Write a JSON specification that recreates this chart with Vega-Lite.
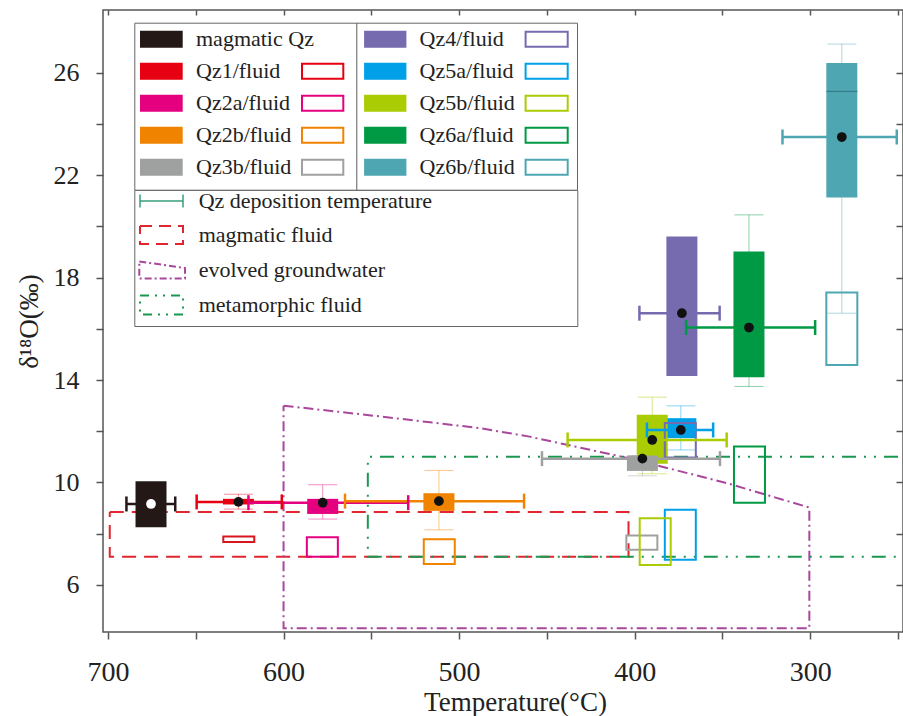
{
  "$schema": "https://vega.github.io/schema/vega-lite/v6.json",
  "width": 800,
  "height": 622,
  "autosize": {"type": "none"},
  "padding": {"left": 103, "top": 10, "right": 0, "bottom": 84},
  "background": "white",
  "datasets": {
    "samples": [
      {"sample":"magmatic Qz","t":675.5,"qlo":8.25,"qhi":10.05,"mean":9.16,"wlo":null,"whi":null,"tlo":689.5,"thi":661.7,"tf":null,"flo":null,"fhi":null,"med":null},
      {"sample":"Qz1","t":625.7,"qlo":9.14,"qhi":9.36,"mean":9.24,"wlo":8.96,"whi":9.54,"tlo":649.5,"thi":601,"tf":625.5,"flo":7.67,"fhi":7.89,"med":null},
      {"sample":"Qz2a","t":577.7,"qlo":8.77,"qhi":9.36,"mean":9.21,"wlo":8.57,"whi":9.91,"tlo":620,"thi":529,"tf":577.9,"flo":7.1,"fhi":7.86,"med":null},
      {"sample":"Qz2b","t":511.5,"qlo":8.89,"qhi":9.58,"mean":9.27,"wlo":8.15,"whi":10.47,"tlo":565,"thi":463,"tf":511.3,"flo":6.82,"fhi":7.78,"med":null},
      {"sample":"Qz3b","t":395.6,"qlo":10.45,"qhi":11.05,"mean":10.93,"wlo":10.26,"whi":11.05,"tlo":452.8,"thi":351.4,"tf":395.9,"flo":7.37,"fhi":7.93,"med":null},
      {"sample":"Qz4","t":373.1,"qlo":14.16,"qhi":19.6,"mean":16.61,"wlo":null,"whi":null,"tlo":397.3,"thi":351.6,"tf":374,"flo":10.97,"fhi":12.32,"med":null},
      {"sample":"Qz5a","t":373.7,"qlo":11.73,"qhi":12.51,"mean":12.05,"wlo":11.27,"whi":12.99,"tlo":393,"thi":355.3,"tf":374,"flo":6.98,"fhi":8.93,"med":null},
      {"sample":"Qz5b","t":390,"qlo":10.73,"qhi":12.64,"mean":11.66,"wlo":10.34,"whi":13.33,"tlo":438.2,"thi":347.6,"tf":388.3,"flo":6.78,"fhi":8.6,"med":null},
      {"sample":"Qz6a","t":334.9,"qlo":14.11,"qhi":19.02,"mean":16.05,"wlo":13.75,"whi":20.45,"tlo":370.7,"thi":297.2,"tf":334.6,"flo":9.21,"fhi":11.4,"med":null},
      {"sample":"Qz6b","t":282,"qlo":21.13,"qhi":26.38,"mean":23.49,"wlo":16.61,"whi":27.12,"tlo":315.8,"thi":250.7,"tf":282,"flo":14.59,"fhi":17.42,"med":25.27}
    ],
    "regions": [
      {"region":"magmatic fluid","i":0,"T":699,"V":8.85},
      {"region":"magmatic fluid","i":1,"T":403.5,"V":8.85},
      {"region":"magmatic fluid","i":2,"T":403.5,"V":7.1},
      {"region":"magmatic fluid","i":3,"T":699,"V":7.1},
      {"region":"magmatic fluid","i":4,"T":699,"V":8.85},
      {"region":"evolved groundwater","i":0,"T":600,"V":13.0},
      {"region":"evolved groundwater","i":1,"T":544,"V":12.57},
      {"region":"evolved groundwater","i":2,"T":488,"V":12.12},
      {"region":"evolved groundwater","i":3,"T":460,"V":11.79},
      {"region":"evolved groundwater","i":4,"T":403.5,"V":10.95},
      {"region":"evolved groundwater","i":5,"T":347.3,"V":9.97},
      {"region":"evolved groundwater","i":6,"T":300.5,"V":9.02},
      {"region":"evolved groundwater","i":7,"T":300.5,"V":4.31},
      {"region":"evolved groundwater","i":8,"T":600,"V":4.31},
      {"region":"evolved groundwater","i":9,"T":600,"V":13.0},
      {"region":"metamorphic fluid","i":0,"T":250,"V":11.0},
      {"region":"metamorphic fluid","i":1,"T":552,"V":11.0},
      {"region":"metamorphic fluid","i":2,"T":552,"V":7.1},
      {"region":"metamorphic fluid","i":3,"T":250,"V":7.1}
    ]
  },
  "resolve": {
    "scale": {"fill": "independent", "stroke": "independent"},
    "legend": {"fill": "independent", "stroke": "independent"}
  },
  "layer": [
    {
      "data": {"name": "regions"},
      "mark": {"type": "line", "strokeWidth": 2, "clip": true},
      "encoding": {
        "x": {"field": "T", "type": "quantitative", "scale": {"domain": [250, 700], "reverse": true, "nice": false, "zero": false},
          "axis": {"title": "Temperature(°C)", "values": [700, 650, 600, 550, 500, 450, 400, 350, 300, 250],
            "labelExpr": "datum.value % 100 === 0 ? datum.label : ''", "labelFontSize": 28, "titleFontSize": 27,
            "labelPadding": 19, "titlePadding": 3, "titleX": 412, "gridDash": [5, 3000]}},
        "y": {"field": "V", "type": "quantitative", "scale": {"domain": [4.16, 28.45], "nice": false, "zero": false},
          "axis": {"title": "δ¹⁸O(‰)", "values": [6, 8, 10, 12, 14, 16, 18, 20, 22, 24, 26],
            "labelExpr": "datum.value % 4 === 2 ? datum.label : ''", "labelFontSize": 26, "titleFontSize": 27,
            "labelPadding": 17, "titlePadding": 10, "gridDash": [7, 3000]}},
        "order": {"field": "i", "type": "quantitative"},
        "stroke": {"field": "region", "type": "nominal",
          "scale": {"domain": ["Qz deposition temperature", "magmatic fluid", "evolved groundwater", "metamorphic fluid"],
            "range": ["#3a9e7e", "#e0262e", "#a8479c", "#1a9850"]},
          "legend": {"orient": "none", "legendX": 31.3, "legendY": 180, "direction": "vertical", "title": null,
            "symbolSize": 4, "symbolStrokeWidth": 2, "padding": 0, "rowPadding": 0, "labelOffset": 42.4, "labelLimit": 600,
            "strokeColor": "#666", "fillColor": "white", "labelFont": "Liberation Serif", "labelFontSize": 22, "labelColor": "#222",
            "encode": {"symbols": {"update": {
              "shape": {"signal": "datum.value === 'Qz deposition temperature' ? 'M-5.3,-6.5V6.5M-5.3,0H37.7M37.7,-6.5V6.5M427.5,-9.5M427.5,16.6' : datum.value === 'magmatic fluid' ? 'M-5.3,-9H37.7V9H-5.3ZM427.5,-9.5M427.5,16.6' : datum.value === 'evolved groundwater' ? 'M-6,-8.5L39.7,-2V8.5H-6ZM427.5,-9.5M427.5,16.6' : 'M-5.3,-9.5H37.7V9.5H-5.3ZM427.5,-9.5M427.5,16.6'"},
              "strokeDash": {"signal": "datum.value === 'magmatic fluid' ? [12, 7] : datum.value === 'evolved groundwater' ? [7, 3, 2, 3] : datum.value === 'metamorphic fluid' ? [9, 6, 2, 6, 2, 6] : [1, 0]"},
              "strokeWidth": {"signal": "datum.value === 'Qz deposition temperature' ? 1.5 : 2"},
              "fill": {"value": "transparent"},
              "opacity": {"value": 1}
            }}}}},
        "strokeDash": {"field": "region", "type": "nominal",
          "scale": {"domain": ["Qz deposition temperature", "magmatic fluid", "evolved groundwater", "metamorphic fluid"],
            "range": [[1, 0], [14, 8], [10, 4, 2, 4], [14, 8, 2, 8, 2, 8]]},
          "legend": null}
      }
    },
    {
      "data": {"name": "samples"},
      "mark": {"type": "rule", "strokeWidth": 1, "strokeOpacity": 0.45},
      "encoding": {
        "x": {"field": "t", "type": "quantitative", "scale": {"domain": [250, 700], "reverse": true, "nice": false, "zero": false}},
        "y": {"field": "wlo", "type": "quantitative", "scale": {"domain": [4.16, 28.45], "nice": false, "zero": false}},
        "y2": {"field": "whi"},
        "stroke": {"field": "sample", "type": "nominal", "legend": null,
          "scale": {"domain": ["magmatic Qz","Qz1","Qz2a","Qz2b","Qz3b","Qz4","Qz5a","Qz5b","Qz6a","Qz6b"],
            "range": ["#231815","#e60012","#e4007f","#f08300","#9fa0a0","#776bb0","#00a0e9","#aacc03","#009944","#4fa6b3"]}}
      }
    },
    {
      "data": {"name": "samples"},
      "mark": {"type": "tick", "orient": "horizontal", "size": 29, "thickness": 1, "opacity": 0.45},
      "encoding": {
        "x": {"field": "t", "type": "quantitative", "scale": {"domain": [250, 700], "reverse": true, "nice": false, "zero": false}},
        "y": {"field": "whi", "type": "quantitative", "scale": {"domain": [4.16, 28.45], "nice": false, "zero": false}},
        "color": {"field": "sample", "type": "nominal", "legend": null,
          "scale": {"domain": ["magmatic Qz","Qz1","Qz2a","Qz2b","Qz3b","Qz4","Qz5a","Qz5b","Qz6a","Qz6b"],
            "range": ["#231815","#e60012","#e4007f","#f08300","#9fa0a0","#776bb0","#00a0e9","#aacc03","#009944","#4fa6b3"]}}
      }
    },
    {
      "data": {"name": "samples"},
      "mark": {"type": "tick", "orient": "horizontal", "size": 29, "thickness": 1, "opacity": 0.45},
      "encoding": {
        "x": {"field": "t", "type": "quantitative", "scale": {"domain": [250, 700], "reverse": true, "nice": false, "zero": false}},
        "y": {"field": "wlo", "type": "quantitative", "scale": {"domain": [4.16, 28.45], "nice": false, "zero": false}},
        "color": {"field": "sample", "type": "nominal", "legend": null,
          "scale": {"domain": ["magmatic Qz","Qz1","Qz2a","Qz2b","Qz3b","Qz4","Qz5a","Qz5b","Qz6a","Qz6b"],
            "range": ["#231815","#e60012","#e4007f","#f08300","#9fa0a0","#776bb0","#00a0e9","#aacc03","#009944","#4fa6b3"]}}
      }
    },
    {
      "data": {"name": "samples"},
      "transform": [{"filter": {"field": "sample", "oneOf": ["Qz4", "Qz5a", "Qz5b", "Qz6a", "Qz6b"]}}],
      "mark": {"type": "bar", "orient": "vertical", "size": 31},
      "encoding": {
        "x": {"field": "t", "type": "quantitative", "scale": {"domain": [250, 700], "reverse": true, "nice": false, "zero": false}},
        "y": {"field": "qlo", "type": "quantitative", "scale": {"domain": [4.16, 28.45], "nice": false, "zero": false}},
        "y2": {"field": "qhi"},
        "fill": {"field": "sample", "type": "nominal",
          "scale": {"domain": ["Qz4", "Qz5a", "Qz5b", "Qz6a", "Qz6b"], "range": ["#776bb0", "#00a0e9", "#aacc03", "#009944", "#4fa6b3"]},
          "legend": {"orient": "none", "legendX": 253, "legendY": 12.7, "direction": "vertical", "title": null,
            "symbolSize": 4, "symbolStrokeWidth": 0, "padding": 5.5, "rowPadding": 0, "labelOffset": 36,
            "strokeColor": "#666", "fillColor": "white", "labelFont": "Liberation Serif", "labelFontSize": 22, "labelColor": "#222",
            "labelExpr": "datum.label + '/fluid'",
            "encode": {"symbols": {"update": {
              "shape": {"value": "M-8.4,-8.5H33.9V8.5H-8.4ZM152.1,-8.5H196.2V8.5H152.1ZM154.1,-6.5V6.5H194.2V-6.5ZM198.8,-15M198.8,17"},
              "opacity": {"value": 1}
            }}}}}
      }
    },
    {
      "data": {"name": "samples"},
      "transform": [{"filter": {"field": "sample", "oneOf": ["magmatic Qz", "Qz1", "Qz2a", "Qz2b", "Qz3b"]}}],
      "mark": {"type": "bar", "orient": "vertical", "size": 31},
      "encoding": {
        "x": {"field": "t", "type": "quantitative", "scale": {"domain": [250, 700], "reverse": true, "nice": false, "zero": false}},
        "y": {"field": "qlo", "type": "quantitative", "scale": {"domain": [4.16, 28.45], "nice": false, "zero": false}},
        "y2": {"field": "qhi"},
        "fill": {"field": "sample", "type": "nominal",
          "scale": {"domain": ["magmatic Qz", "Qz1", "Qz2a", "Qz2b", "Qz3b"], "range": ["#231815", "#e60012", "#e4007f", "#f08300", "#9fa0a0"]},
          "legend": {"orient": "none", "legendX": 31.3, "legendY": 12.7, "direction": "vertical", "title": null,
            "symbolSize": 4, "symbolStrokeWidth": 0, "padding": 5.5, "rowPadding": 0, "labelOffset": 34.2,
            "strokeColor": "#666", "fillColor": "white", "labelFont": "Liberation Serif", "labelFontSize": 22, "labelColor": "#222",
            "labelExpr": "datum.label === 'magmatic Qz' ? datum.label : datum.label + '/fluid'",
            "encode": {"symbols": {"update": {
              "shape": {"signal": "datum.value === 'magmatic Qz' ? 'M-10.8,-8.5H31.9V8.5H-10.8ZM199.7,-15M199.7,17' : 'M-10.8,-8.5H31.9V8.5H-10.8ZM150.2,-8.5H193.5V8.5H150.2ZM152.2,-6.5V6.5H191.5V-6.5ZM199.7,-15M199.7,17'"},
              "opacity": {"value": 1}
            }}}}}
      }
    },
    {
      "data": {"name": "samples"},
      "mark": {"type": "tick", "orient": "horizontal", "size": 31, "thickness": 1.2, "color": "#2b6b74"},
      "encoding": {
        "x": {"field": "t", "type": "quantitative", "scale": {"domain": [250, 700], "reverse": true, "nice": false, "zero": false}},
        "y": {"field": "med", "type": "quantitative", "scale": {"domain": [4.16, 28.45], "nice": false, "zero": false}}
      }
    },
    {
      "data": {"name": "samples"},
      "mark": {"type": "bar", "orient": "vertical", "size": 31, "filled": false, "strokeWidth": 2},
      "encoding": {
        "x": {"field": "tf", "type": "quantitative", "scale": {"domain": [250, 700], "reverse": true, "nice": false, "zero": false}},
        "y": {"field": "flo", "type": "quantitative", "scale": {"domain": [4.16, 28.45], "nice": false, "zero": false}},
        "y2": {"field": "fhi"},
        "stroke": {"field": "sample", "type": "nominal", "legend": null,
          "scale": {"domain": ["magmatic Qz","Qz1","Qz2a","Qz2b","Qz3b","Qz4","Qz5a","Qz5b","Qz6a","Qz6b"],
            "range": ["#231815","#d7161e","#e4007f","#f08300","#9fa0a0","#776bb0","#00a0e9","#aacc03","#009944","#4fa6b3"]}}
      }
    },
    {
      "data": {"name": "samples"},
      "mark": {"type": "rule", "strokeWidth": 2.5},
      "encoding": {
        "x": {"field": "tlo", "type": "quantitative", "scale": {"domain": [250, 700], "reverse": true, "nice": false, "zero": false}},
        "x2": {"field": "thi"},
        "y": {"field": "mean", "type": "quantitative", "scale": {"domain": [4.16, 28.45], "nice": false, "zero": false}},
        "stroke": {"field": "sample", "type": "nominal", "legend": null,
          "scale": {"domain": ["magmatic Qz","Qz1","Qz2a","Qz2b","Qz3b","Qz4","Qz5a","Qz5b","Qz6a","Qz6b"],
            "range": ["#231815","#e60012","#e4007f","#f08300","#9fa0a0","#776bb0","#00a0e9","#aacc03","#009944","#4fa6b3"]}}
      }
    },
    {
      "data": {"name": "samples"},
      "mark": {"type": "tick", "orient": "vertical", "size": 15, "thickness": 2.5, "opacity": 1},
      "encoding": {
        "x": {"field": "tlo", "type": "quantitative", "scale": {"domain": [250, 700], "reverse": true, "nice": false, "zero": false}},
        "y": {"field": "mean", "type": "quantitative", "scale": {"domain": [4.16, 28.45], "nice": false, "zero": false}},
        "color": {"field": "sample", "type": "nominal", "legend": null,
          "scale": {"domain": ["magmatic Qz","Qz1","Qz2a","Qz2b","Qz3b","Qz4","Qz5a","Qz5b","Qz6a","Qz6b"],
            "range": ["#231815","#e60012","#e4007f","#f08300","#9fa0a0","#776bb0","#00a0e9","#aacc03","#009944","#4fa6b3"]}}
      }
    },
    {
      "data": {"name": "samples"},
      "mark": {"type": "tick", "orient": "vertical", "size": 15, "thickness": 2.5, "opacity": 1},
      "encoding": {
        "x": {"field": "thi", "type": "quantitative", "scale": {"domain": [250, 700], "reverse": true, "nice": false, "zero": false}},
        "y": {"field": "mean", "type": "quantitative", "scale": {"domain": [4.16, 28.45], "nice": false, "zero": false}},
        "color": {"field": "sample", "type": "nominal", "legend": null,
          "scale": {"domain": ["magmatic Qz","Qz1","Qz2a","Qz2b","Qz3b","Qz4","Qz5a","Qz5b","Qz6a","Qz6b"],
            "range": ["#231815","#e60012","#e4007f","#f08300","#9fa0a0","#776bb0","#00a0e9","#aacc03","#009944","#4fa6b3"]}}
      }
    },
    {
      "data": {"name": "samples"},
      "mark": {"type": "point", "filled": true, "size": 95, "opacity": 1, "strokeWidth": 0},
      "encoding": {
        "x": {"field": "t", "type": "quantitative", "scale": {"domain": [250, 700], "reverse": true, "nice": false, "zero": false}},
        "y": {"field": "mean", "type": "quantitative", "scale": {"domain": [4.16, 28.45], "nice": false, "zero": false}},
        "fill": {"condition": {"test": "datum.sample === 'magmatic Qz'", "value": "white"}, "value": "#111111"}
      }
    }
  ],
  "config": {
    "view": {"stroke": "#555555", "strokeWidth": 1.5},
    "axis": {"labelFont": "Liberation Serif", "titleFont": "Liberation Serif", "labelColor": "#222222", "titleColor": "#222222",
      "titleFontWeight": "normal", "domain": false, "tickColor": "#555555", "tickWidth": 1.5, "tickSize": 7,
      "grid": true, "gridColor": "#555555", "gridWidth": 1.5, "gridOpacity": 1, "labelFlush": false, "labelOverlap": false},
    "legend": {"labelFont": "Liberation Serif"}
  }
}
